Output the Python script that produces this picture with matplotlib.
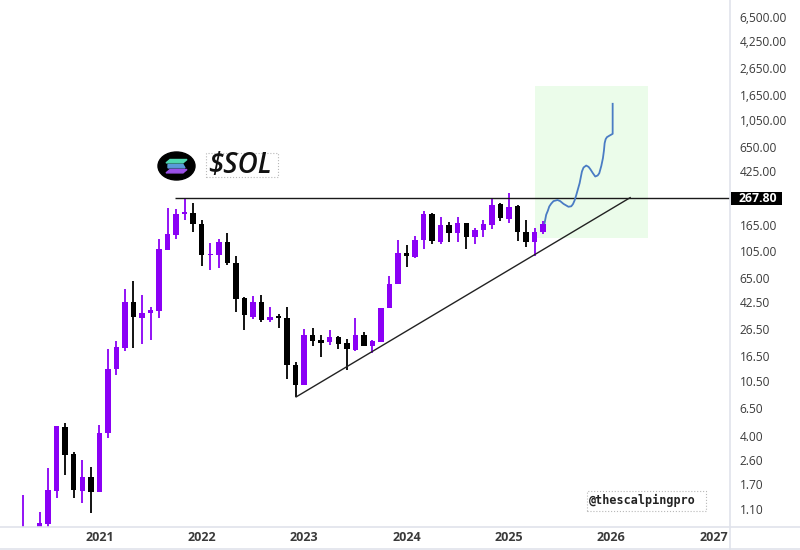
import matplotlib
matplotlib.use('Agg')
import matplotlib.pyplot as plt
from matplotlib.lines import Line2D
from matplotlib.patches import Ellipse, Polygon, Rectangle

PURPLE = '#8a00f5'
BLACK = '#000000'
AXIS_GREY = '#e0e3eb'
LABEL_GREY = '#3a3a3a'

# monthly candles, first one is Apr 2020, x is months since Jan 2021
first_month = -9
opens = [0.50, 0.60, 0.70, 0.844, 1.51, 4.71, 2.89, 1.51, 1.95, 1.49, 4.18, 12.9, 19.0, 42.2, 32.0, 34.8,
         36.5, 106, 138, 199, 206, 169, 97, 98, 123, 84, 45.6, 32.8, 42.2, 31.1, 33.0, 32.2,
         14.0, 9.8, 23.7, 21.7, 20.8, 22.8, 20.5, 18.2, 23.7, 19.6, 20.8, 38, 58, 101,
         94.5, 126, 201, 123, 164, 144, 172, 134, 151, 166, 240, 184, 232, 147, 123, 145]
highs = [1.41, 0.75, 1.05, 2.26, 4.79, 5.04, 3.01, 2.59, 2.30, 4.85, 18.6, 21.2, 53.2, 61.0, 48.2, 38.7,
         129, 223, 221, 261, 243, 179, 120, 129, 143, 95, 46, 47.3, 48.2, 38.9, 34.2, 38.6,
         14.8, 26.4, 26.7, 23.7, 25.9, 23.4, 22.1, 31.9, 25.2, 21.7, 38.2, 67.6, 126, 116,
         135, 210, 205, 189, 174, 192, 172, 158, 181, 266, 243, 293, 234, 179, 156, 176]
lows = [0.50, 0.50, 0.70, 0.795, 1.33, 2.00, 1.33, 1.23, 1.02, 1.49, 3.83, 11.7, 17.9, 19.0, 20.1, 21.7,
        31.9, 106, 130, 179, 147, 80, 75, 78, 82, 35.4, 25.9, 31.6, 29.9, 29.9, 26.7, 11.0,
        7.9, 9.8, 19.6, 16.0, 19.7, 18.6, 12.8, 18.0, 19.4, 17.2, 20.8, 38, 58, 79,
        93, 109, 119, 119, 123, 122, 109, 119, 133, 154, 176, 171, 125, 113, 96, 142]
closes = [0.60, 0.62, 0.854, 1.54, 4.79, 2.85, 1.54, 1.95, 1.49, 4.23, 13.1, 19.3, 42.2, 32.6, 35.2, 36.9,
          108, 140, 200, 207, 169, 98, 99, 123, 84, 45, 33.6, 42.2, 31.0, 32.8, 32.2, 14.0,
          9.8, 23.7, 21.5, 20.7, 22.8, 20.4, 18.4, 23.7, 19.6, 21.2, 38.2, 58.5, 101, 95,
          127, 201, 124, 164, 144, 172, 134, 152, 168, 237, 186, 229, 146, 123, 147, 169]

# hand drawn projection
forecast_months = [52.17, 52.36, 52.56, 52.72, 52.95, 53.22, 53.69, 54.0, 54.39, 54.97, 55.3, 55.5, 55.69,
                   55.89, 56.08, 56.28, 56.55, 56.74, 57.05, 57.33, 57.53, 57.84, 58.11, 58.39, 58.58,
                   58.82, 59.01, 59.13, 59.21, 59.33, 59.48, 59.8, 60.15, 60.15]
forecast_prices = [170.6, 198, 213, 229, 241, 252, 257, 252, 240, 228, 230, 239, 255,
                   281, 311, 346, 425, 456, 472, 461, 443, 412, 389, 396, 412,
                   469, 538, 616, 701, 752, 779, 802, 826, 1404]

resistance = 267.80
resistance_start = 8.9
trend_months = [23.06, 62.2]
trend_prices = [7.95, resistance]
zone_months = [51.1, 64.3]
zone_prices = [131.7, 1935]

price_ticks = [6500, 4250, 2650, 1650, 1050, 650, 425, 165, 105, 65, 42.5, 26.5, 16.5, 10.5, 6.5, 4, 2.6, 1.7, 1.1]
year_labels = ['2021', '2022', '2023', '2024', '2025', '2026', '2027']

plt.rcParams['font.family'] = ['Open Sans', 'DejaVu Sans']

fig = plt.figure(figsize=(8, 5.5), dpi=100, facecolor='white')
ax = fig.add_axes([0, 23 / 550, 730 / 800, 527 / 550])
ax.set_yscale('log')
ax.set_xlim(-11.64, 73.9)
ax.set_ylim(0.80, 8770)

for spine in ax.spines.values():
    spine.set_visible(False)

ax.fill_between(zone_months, zone_prices[0], zone_prices[1], color='#ebfcea', lw=0, zorder=0)

for i in range(len(opens)):
    month = first_month + i
    color = PURPLE if closes[i] >= opens[i] else BLACK
    ax.vlines(month, lows[i], highs[i], color=color, lw=1.3, zorder=2)
    ax.bar(month, abs(closes[i] - opens[i]), bottom=min(opens[i], closes[i]), width=0.64, color=color, lw=0, zorder=3)

ax.hlines(resistance, resistance_start, 73.9, color='#1a1a1a', lw=1.0, zorder=4)
ax.plot(trend_months, trend_prices, color='#222222', lw=1.0, zorder=4)
ax.plot(forecast_months, forecast_prices, color='#4a7cc4', lw=1.3, zorder=5)

ax.yaxis.tick_right()
ax.set_yticks(price_ticks)
ax.set_yticklabels([f'{p:,.2f}' for p in price_ticks])
ax.minorticks_off()
ax.tick_params(axis='y', length=0, pad=7, labelsize=8.6, labelcolor=LABEL_GREY)
ax.set_xticks(range(0, 73, 12))
ax.set_xticklabels(year_labels, fontweight='bold')
ax.tick_params(axis='x', length=0, pad=3, labelsize=9, labelcolor=LABEL_GREY)


def px(x, y):
    return x / 800, 1 - y / 550


# axis frame lines run to the picture edge
for xs, ys in [((730, 730), (0, 550)), ((0, 800), (527, 527)), ((0, 800), (549, 549))]:
    x0, y0 = px(xs[0], ys[0])
    x1, y1 = px(xs[1], ys[1])
    fig.add_artist(Line2D([x0, x1], [y0, y1], color=AXIS_GREY, lw=1.2, transform=fig.transFigure))

# price tag
fig.add_artist(Rectangle(px(731, 205), 51 / 800, 13 / 550, fc='black', ec='none', transform=fig.transFigure, zorder=6))
fig.text(*px(758, 198.5), f'{resistance:.2f}', ha='center', va='center', color='white', fontsize=8.8,
         fontweight='bold', zorder=7)

# logo
fig.add_artist(Ellipse(px(176.5, 166), 37 / 800, 28 / 550, color='black', transform=fig.transFigure))
logo_bars = [(159.5, '#4fd8b0', 1), (164.5, '#5a9ad8', -1), (169.5, '#9a50e6', 1)]
for y, c, lean in logo_bars:
    pts = [px(168 + 2 * max(lean, 0), y), px(185 + 2 * max(lean, 0) - 2 * (lean < 0), y),
           px(183 + 2 * (lean < 0), y + 3.4), px(166 + 2 * (lean < 0), y + 3.4)]
    fig.add_artist(Polygon(pts, closed=True, color=c, transform=fig.transFigure))

# ticker tag and watermark
fig.add_artist(Rectangle(px(206, 177), 72 / 800, 24 / 550, fill=False, ec='#b8b8b8', lw=0.8, ls=':', transform=fig.transFigure))
fig.text(*px(240, 165.5), '$SOL', ha='center', va='center', fontsize=20, style='italic', fontweight='semibold', color='#111111')
fig.add_artist(Rectangle(px(587, 511), 119 / 800, 20 / 550, fill=False, ec='#b8b8b8', lw=0.8, ls=':', transform=fig.transFigure))
fig.text(*px(589, 500), '@thescalpingpro', ha='left', va='center', fontsize=8.5, fontweight='bold', color='#222222', family=['DejaVu Sans Mono'])

fig.savefig('out.png', dpi=100)
